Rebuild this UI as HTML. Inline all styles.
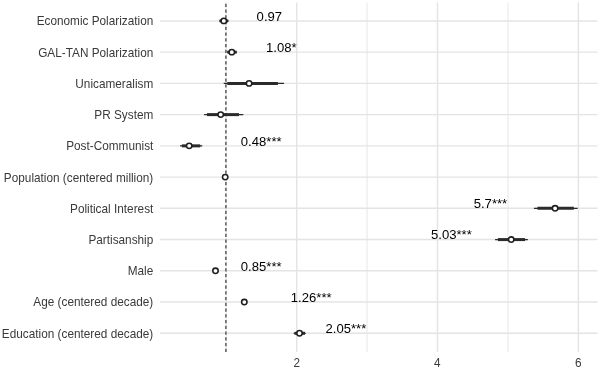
<!DOCTYPE html>
<html><head><meta charset="utf-8"><style>
html,body{margin:0;padding:0;background:#fff;width:600px;height:369px;overflow:hidden}
svg{display:block;will-change:transform}
text{font-family:"Liberation Sans",sans-serif}
</style></head><body>
<svg width="600" height="369" viewBox="0 0 600 369">
<rect width="600" height="369" fill="#fff"/>
<line x1="226.2" y1="2.4" x2="226.2" y2="352.0" stroke="#EAEAEA" stroke-width="1.1"/>
<line x1="367.0" y1="2.4" x2="367.0" y2="352.0" stroke="#EAEAEA" stroke-width="1.1"/>
<line x1="508.0" y1="2.4" x2="508.0" y2="352.0" stroke="#EAEAEA" stroke-width="1.1"/>
<line x1="160.0" y1="20.90" x2="597.6" y2="20.90" stroke="#E4E4E4" stroke-width="1.45"/>
<line x1="160.0" y1="52.14" x2="597.6" y2="52.14" stroke="#E4E4E4" stroke-width="1.45"/>
<line x1="160.0" y1="83.38" x2="597.6" y2="83.38" stroke="#E4E4E4" stroke-width="1.45"/>
<line x1="160.0" y1="114.62" x2="597.6" y2="114.62" stroke="#E4E4E4" stroke-width="1.45"/>
<line x1="160.0" y1="145.86" x2="597.6" y2="145.86" stroke="#E4E4E4" stroke-width="1.45"/>
<line x1="160.0" y1="177.10" x2="597.6" y2="177.10" stroke="#E4E4E4" stroke-width="1.45"/>
<line x1="160.0" y1="208.34" x2="597.6" y2="208.34" stroke="#E4E4E4" stroke-width="1.45"/>
<line x1="160.0" y1="239.58" x2="597.6" y2="239.58" stroke="#E4E4E4" stroke-width="1.45"/>
<line x1="160.0" y1="270.82" x2="597.6" y2="270.82" stroke="#E4E4E4" stroke-width="1.45"/>
<line x1="160.0" y1="302.06" x2="597.6" y2="302.06" stroke="#E4E4E4" stroke-width="1.45"/>
<line x1="160.0" y1="333.30" x2="597.6" y2="333.30" stroke="#E4E4E4" stroke-width="1.45"/>
<line x1="296.7" y1="2.4" x2="296.7" y2="352.0" stroke="#E4E4E4" stroke-width="1.45"/>
<line x1="437.5" y1="2.4" x2="437.5" y2="352.0" stroke="#E4E4E4" stroke-width="1.45"/>
<line x1="578.4" y1="2.4" x2="578.4" y2="352.0" stroke="#E4E4E4" stroke-width="1.45"/>
<line x1="225.9" y1="3.8" x2="225.9" y2="352.0" stroke="#5A5A5A" stroke-width="1.5" stroke-dasharray="3.1 2.65"/>
<text transform="translate(153.3 25.30) scale(1 1.035)" text-anchor="end" font-size="11.8" fill="#3A3A3A">Economic Polarization</text>
<text transform="translate(153.3 56.54) scale(1 1.035)" text-anchor="end" font-size="11.8" fill="#3A3A3A">GAL-TAN Polarization</text>
<text transform="translate(153.3 87.78) scale(1 1.035)" text-anchor="end" font-size="11.8" fill="#3A3A3A">Unicameralism</text>
<text transform="translate(153.3 119.02) scale(1 1.035)" text-anchor="end" font-size="11.8" fill="#3A3A3A">PR System</text>
<text transform="translate(153.3 150.26) scale(1 1.035)" text-anchor="end" font-size="11.8" fill="#3A3A3A">Post-Communist</text>
<text transform="translate(153.3 181.50) scale(1 1.035)" text-anchor="end" font-size="11.8" fill="#3A3A3A">Population (centered million)</text>
<text transform="translate(153.3 212.74) scale(1 1.035)" text-anchor="end" font-size="11.8" fill="#3A3A3A">Political Interest</text>
<text transform="translate(153.3 243.98) scale(1 1.035)" text-anchor="end" font-size="11.8" fill="#3A3A3A">Partisanship</text>
<text transform="translate(153.3 275.22) scale(1 1.035)" text-anchor="end" font-size="11.8" fill="#3A3A3A">Male</text>
<text transform="translate(153.3 306.46) scale(1 1.035)" text-anchor="end" font-size="11.8" fill="#3A3A3A">Age (centered decade)</text>
<text transform="translate(153.3 337.70) scale(1 1.035)" text-anchor="end" font-size="11.8" fill="#3A3A3A">Education (centered decade)</text>
<line x1="219.2" y1="20.90" x2="228.6" y2="20.90" stroke="#2B2B2B" stroke-width="1.3"/>
<line x1="219.6" y1="20.90" x2="228.2" y2="20.90" stroke="#2B2B2B" stroke-width="3.0"/>
<circle cx="223.8" cy="20.90" r="2.7" fill="#fff" stroke="#1E1E1E" stroke-width="1.55"/>
<line x1="227.0" y1="52.14" x2="237.0" y2="52.14" stroke="#2B2B2B" stroke-width="1.3"/>
<line x1="227.4" y1="52.14" x2="236.6" y2="52.14" stroke="#2B2B2B" stroke-width="3.0"/>
<circle cx="231.8" cy="52.14" r="2.7" fill="#fff" stroke="#1E1E1E" stroke-width="1.55"/>
<line x1="223.7" y1="83.38" x2="284.1" y2="83.38" stroke="#2B2B2B" stroke-width="1.3"/>
<line x1="227.3" y1="83.38" x2="277.9" y2="83.38" stroke="#2B2B2B" stroke-width="3.0"/>
<circle cx="249.1" cy="83.38" r="2.7" fill="#fff" stroke="#1E1E1E" stroke-width="1.55"/>
<line x1="204.1" y1="114.62" x2="243.3" y2="114.62" stroke="#2B2B2B" stroke-width="1.3"/>
<line x1="207.0" y1="114.62" x2="239.0" y2="114.62" stroke="#2B2B2B" stroke-width="3.0"/>
<circle cx="220.7" cy="114.62" r="2.7" fill="#fff" stroke="#1E1E1E" stroke-width="1.55"/>
<line x1="180.1" y1="145.86" x2="202.2" y2="145.86" stroke="#2B2B2B" stroke-width="1.3"/>
<line x1="181.9" y1="145.86" x2="200.2" y2="145.86" stroke="#2B2B2B" stroke-width="3.0"/>
<circle cx="189.2" cy="145.86" r="2.7" fill="#fff" stroke="#1E1E1E" stroke-width="1.55"/>
<circle cx="225.2" cy="177.10" r="2.7" fill="#fff" stroke="#1E1E1E" stroke-width="1.55"/>
<line x1="533.9" y1="208.34" x2="577.7" y2="208.34" stroke="#2B2B2B" stroke-width="1.3"/>
<line x1="537.4" y1="208.34" x2="573.8" y2="208.34" stroke="#2B2B2B" stroke-width="3.0"/>
<circle cx="555.1" cy="208.34" r="2.7" fill="#fff" stroke="#1E1E1E" stroke-width="1.55"/>
<line x1="495.1" y1="239.58" x2="527.9" y2="239.58" stroke="#2B2B2B" stroke-width="1.3"/>
<line x1="497.9" y1="239.58" x2="525.1" y2="239.58" stroke="#2B2B2B" stroke-width="3.0"/>
<circle cx="511.2" cy="239.58" r="2.7" fill="#fff" stroke="#1E1E1E" stroke-width="1.55"/>
<circle cx="215.5" cy="270.82" r="2.7" fill="#fff" stroke="#1E1E1E" stroke-width="1.55"/>
<circle cx="244.3" cy="302.06" r="2.7" fill="#fff" stroke="#1E1E1E" stroke-width="1.55"/>
<line x1="293.7" y1="333.30" x2="305.7" y2="333.30" stroke="#2B2B2B" stroke-width="1.3"/>
<line x1="294.5" y1="333.30" x2="305.0" y2="333.30" stroke="#2B2B2B" stroke-width="3.0"/>
<circle cx="299.5" cy="333.30" r="2.7" fill="#fff" stroke="#1E1E1E" stroke-width="1.55"/>
<text transform="translate(256.6 20.60) scale(1 1.035)" font-size="13.1" fill="#000">0.97</text>
<text transform="translate(266.0 51.84) scale(1 1.035)" font-size="13.1" fill="#000">1.08*</text>
<text transform="translate(240.8 145.56) scale(1 1.035)" font-size="13.1" fill="#000">0.48***</text>
<text transform="translate(473.7 208.04) scale(1 1.035)" font-size="13.1" fill="#000">5.7***</text>
<text transform="translate(431.0 239.28) scale(1 1.035)" font-size="13.1" fill="#000">5.03***</text>
<text transform="translate(240.8 270.52) scale(1 1.035)" font-size="13.1" fill="#000">0.85***</text>
<text transform="translate(290.8 301.76) scale(1 1.035)" font-size="13.1" fill="#000">1.26***</text>
<text transform="translate(325.5 333.00) scale(1 1.035)" font-size="13.1" fill="#000">2.05***</text>
<text transform="translate(296.7 366.9) scale(1 1.035)" text-anchor="middle" font-size="11.8" fill="#3A3A3A">2</text>
<text transform="translate(437.4 366.9) scale(1 1.035)" text-anchor="middle" font-size="11.8" fill="#3A3A3A">4</text>
<text transform="translate(578.4 366.9) scale(1 1.035)" text-anchor="middle" font-size="11.8" fill="#3A3A3A">6</text>
</svg></body></html>
